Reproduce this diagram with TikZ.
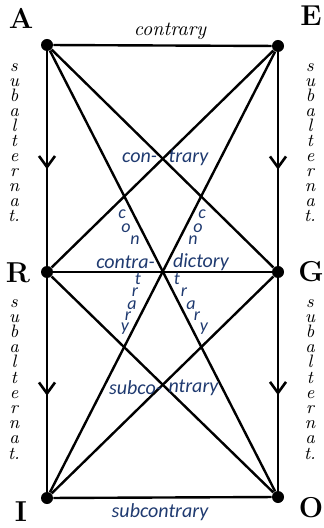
\documentclass[tikz,border=0pt]{standalone}
\usepackage{fontspec}
\newfontfamily\calib{Carlito}
\usepackage{xcolor}
\usetikzlibrary{arrows.meta,decorations.markings}
\definecolor{navy}{HTML}{1F3A70}

\begin{document}
\begin{tikzpicture}[x=0.5pt, y=-0.5pt, >=Latex]
\tikzstyle{dot}=[circle, fill, inner sep=0pt, minimum size=6pt]
\tikzstyle{corner}=[font=\Large\bfseries, inner sep=0pt]
\tikzstyle{edge}=[line width=1.2pt]
\tikzstyle{subalt}=[line width=1.3pt, postaction={decorate}, decoration={markings, mark=at position 0.55 with {\arrow{Straight Barb[length=5.5pt,width=8pt,line width=1.3pt]}}}]
\tikzstyle{lbl}=[font=\calib\itshape, text=navy, inner sep=0pt]
\tikzstyle{slet}=[font=\calib\itshape\small, text=navy, inner sep=0pt, anchor=base]
\tikzstyle{vlet}=[font=\small\itshape, inner sep=0pt, anchor=base]
\useasboundingbox (0,0) rectangle (323,528);
% corners of the square
\node[dot] (A) at (47,45) {};
\node[dot] (E) at (278,46) {};
\node[dot] (R) at (47,272) {};
\node[dot] (G) at (278,272) {};
\node[dot] (I) at (47,498) {};
\node[dot] (O) at (278,497) {};
\node[corner] (labA) at (21,18) {A};
\node[corner] (labE) at (311,16) {E};
\node[corner] (labR) at (18,273) {R};
\node[corner] (labG) at (311,272) {G};
\node[corner] (labI) at (21,512) {I};
\node[corner] (labO) at (311,508) {O};
% relations
\draw[edge] (A) -- (E);
\draw[edge] (R) -- (G);
\draw[edge] (I) -- (O);
\draw[edge] (A) -- (G);
\draw[edge] (E) -- (R);
\draw[edge] (A) -- (O);
\draw[edge] (E) -- (I);
\draw[edge] (R) -- (O);
\draw[edge] (G) -- (I);
\draw[subalt] (A) -- (R);
\draw[subalt] (R) -- (I);
\draw[subalt] (E) -- (G);
\draw[subalt] (G) -- (O);
% labels
\node[font=\itshape, inner sep=0pt] (top) at (170,31) {contrary};
\node[lbl] (bot) at (160,512) {subcontrary};
\node[lbl] (ct1) at (139.5,158) {con-};
\node[lbl] (ct2) at (188.5,158) {trary};
\node[lbl] (cd1) at (125.5,262) {contra-};
\node[lbl] (cd2) at (201,262) {dictory};
\node[lbl] (sc1) at (135.5,388) {subco-};
\node[lbl] (sc2) at (193.5,388) {ntrary};
\foreach \ch/\px/\py [count=\k] in {c/122/219, o/126/233, n/135/245}
  \node[slet] (cl\k) at (\px,\py) {\ch};
\foreach \ch/\px/\py [count=\k] in {c/202/219, o/198/233, n/193/245}
  \node[slet] (cr\k) at (\px,\py) {\ch};
\foreach \ch/\px/\py [count=\k] in {t/138/285, r/135/297, a/132/309, r/128/320, y/125/331}
  \node[slet] (tl\k) at (\px,\py) {\ch};
\foreach \ch/\px/\py [count=\k] in {t/177/285, r/184/297, a/191/309, r/197/320, y/204/331}
  \node[slet] (tr\k) at (\px,\py) {\ch};
% subalternation columns
\foreach \ch [count=\k] in {s,u,b,a,l,t,e,r,n,a,t.}{
  \node[vlet] (lu\k) at (14,72+15*\k-15) {\ch};
  \node[vlet] (ru\k) at (310,72+15*\k-15) {\ch};
  \node[vlet] (ld\k) at (14,307+15.2*\k-15.2) {\ch};
  \node[vlet] (rd\k) at (310,307+15.2*\k-15.2) {\ch};
}
\end{tikzpicture}
\end{document}
